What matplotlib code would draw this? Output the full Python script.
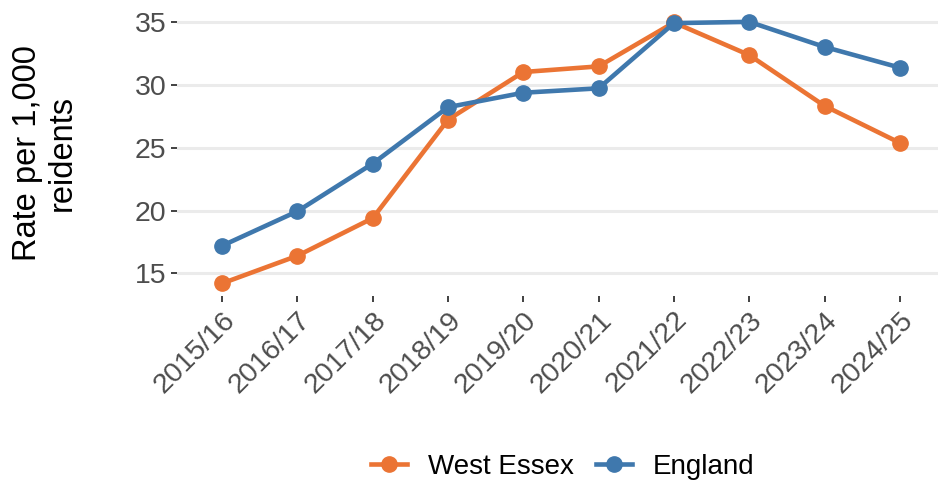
import matplotlib
matplotlib.use("Agg")
import matplotlib.pyplot as plt
from matplotlib.lines import Line2D

years = ["2015/16", "2016/17", "2017/18", "2018/19", "2019/20",
         "2020/21", "2021/22", "2022/23", "2023/24", "2024/25"]
west_essex = [14.2, 16.4, 19.4, 27.25, 31.05, 31.5, 35.0, 32.4, 28.35, 25.4]
england = [17.2, 19.95, 23.75, 28.25, 29.4, 29.75, 34.95, 35.05, 33.05, 31.4]

c_we = "#EB7434"
c_en = "#3F78AD"

plt.rcParams['font.family'] = ['Liberation Sans', 'DejaVu Sans']

fig = plt.figure(figsize=(9.38, 4.84), dpi=100)
ax = fig.add_axes([0.1887, 0.3876, 0.8188, 0.5942])

x = list(range(len(years)))
ax.plot(x, west_essex, color=c_we, lw=3.3, marker='o', ms=11, zorder=3, solid_capstyle='butt')
ax.plot(x, england, color=c_en, lw=3.3, marker='o', ms=11, zorder=3, solid_capstyle='butt')

ax.set_xlim(-0.6, len(years) - 1 + 0.6)
ax.set_ylim(13.16, 36.09)
ax.set_yticks([15, 20, 25, 30, 35])
ax.set_xticks(x)
ax.set_xticklabels(years, rotation=45, ha='right', rotation_mode='anchor')

ax.grid(axis='y', color='#EBEBEB', lw=2.2, zorder=0)
ax.grid(axis='x', color='white', lw=2.0, zorder=1)
ax.set_axisbelow(True)
for s in ax.spines.values():
    s.set_visible(False)

ax.tick_params(axis='both', colors='#333333', labelcolor='#4D4D4D', labelsize=20.5,
               length=4.5, width=1.3, pad=3)

ax.set_ylabel("Rate per 1,000\nreidents", fontsize=23.5, color='black',
              linespacing=1.17, labelpad=41)

handles = [Line2D([], [], color=c_we, lw=3.3, marker='o', ms=11),
           Line2D([], [], color=c_en, lw=3.3, marker='o', ms=11)]
fig.legend(handles, ["West Essex", "England"], loc='center',
           bbox_to_anchor=(0.600, 0.035), ncol=2, frameon=False, fontsize=20,
           handlelength=1.3, handletextpad=0.75, columnspacing=0.8)

fig.savefig("out.png", dpi=100)
